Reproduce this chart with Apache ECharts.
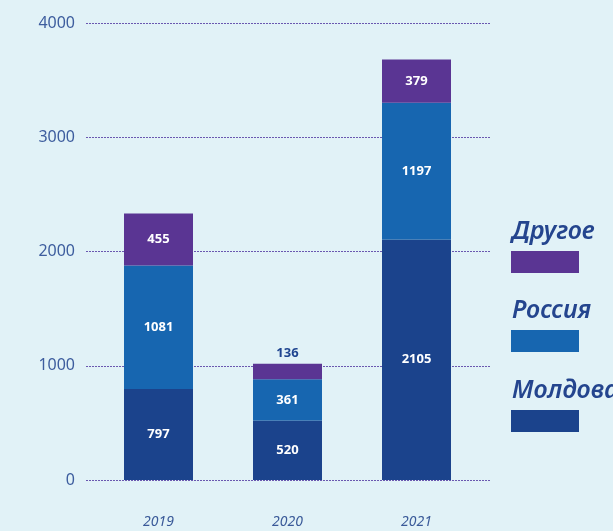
<!DOCTYPE html>
<html>
<head>
<meta charset="utf-8">
<script src="https://cdn.jsdelivr.net/npm/echarts@6/dist/echarts.min.js"></script>
<style>
  html, body { margin: 0; padding: 0; background: #e1f2f7; }
  #chart { width: 613px; height: 531px; }
</style>
</head>
<body>
<div id="chart"></div>
<script>
// данные
var years = ['2019', '2020', '2021'];
var moldova = [797, 520, 2105];
var russia = [1081, 361, 1197];
var other = [455, 136, 379];
var yTicks = [0, 1000, 2000, 3000, 4000];

var seriesNames = ['Молдова', 'Россия', 'Другое'];
var colors = ['#1b438c', '#1766b0', '#5a3593'];

var myChart = echarts.init(document.getElementById('chart'));

var barLabel = {
  show: true,
  position: 'inside',
  color: '#ffffff',
  fontWeight: 'bold',
  fontSize: 13,
  fontFamily: 'Noto Sans'
};

// маленький сегмент 2020 - подпись сверху
var otherData = other.map(function (v, i) {
  if (i === 1) {
    return { value: v, label: { position: 'top', color: '#1f4590', distance: 4 } };
  }
  return v;
});

// легенда: текст над прямоугольником
var legendTop = [222, 301, 381];
var legendOrder = [2, 1, 0];
var graphics = [];
legendOrder.forEach(function (idx, k) {
  graphics.push({
    type: 'text',
    left: 512,
    top: legendTop[k] - 3,
    style: {
      text: seriesNames[idx],
      fill: '#24458e',
      font: 'italic 600 25px "Noto Sans"'
    }
  });
  graphics.push({
    type: 'rect',
    shape: { x: 511, y: legendTop[k] + 29, width: 68, height: 22 },
    style: { fill: colors[idx] }
  });
});

option = {
  backgroundColor: '#e1f2f7',
  color: colors,
  grid: [
    { left: 86, right: 123, top: 23, bottom: 51 },
    { left: 94, right: 132, top: 23, bottom: 51 }
  ],
  xAxis: [
    { type: 'category', gridIndex: 0, data: years, show: false },
    {
      type: 'category',
      gridIndex: 1,
      data: years,
      axisLine: { show: false },
      axisTick: { show: false },
      axisLabel: {
        margin: 35,
        color: '#3a5a99',
        fontSize: 14,
        fontStyle: 'italic',
        fontFamily: 'Noto Sans'
      }
    }
  ],
  yAxis: [
    {
      type: 'value',
      gridIndex: 0,
      min: yTicks[0],
      max: yTicks[yTicks.length - 1],
      interval: 1000,
      axisLine: { show: false },
      axisTick: { show: false },
      axisLabel: {
        margin: 11,
        color: '#3d5d9e',
        fontSize: 16,
        fontFamily: 'Noto Sans',
        formatter: function (v) { return String(v); }
      },
      splitLine: {
        lineStyle: { color: '#6a58b0', type: [2, 1], width: 1 }
      }
    },
    {
      type: 'value',
      gridIndex: 1,
      min: yTicks[0],
      max: yTicks[yTicks.length - 1],
      interval: 1000,
      show: false,
      splitLine: { show: false }
    }
  ],
  graphic: graphics,
  series: [
    {
      name: seriesNames[0],
      type: 'bar',
      stack: 'total',
      xAxisIndex: 1,
      yAxisIndex: 1,
      barWidth: 69,
      label: barLabel,
      data: moldova
    },
    {
      name: seriesNames[1],
      type: 'bar',
      stack: 'total',
      xAxisIndex: 1,
      yAxisIndex: 1,
      barWidth: 69,
      label: barLabel,
      data: russia
    },
    {
      name: seriesNames[2],
      type: 'bar',
      stack: 'total',
      xAxisIndex: 1,
      yAxisIndex: 1,
      barWidth: 69,
      label: barLabel,
      data: otherData
    }
  ]
};

myChart.setOption(option);
</script>
</body>
</html>
